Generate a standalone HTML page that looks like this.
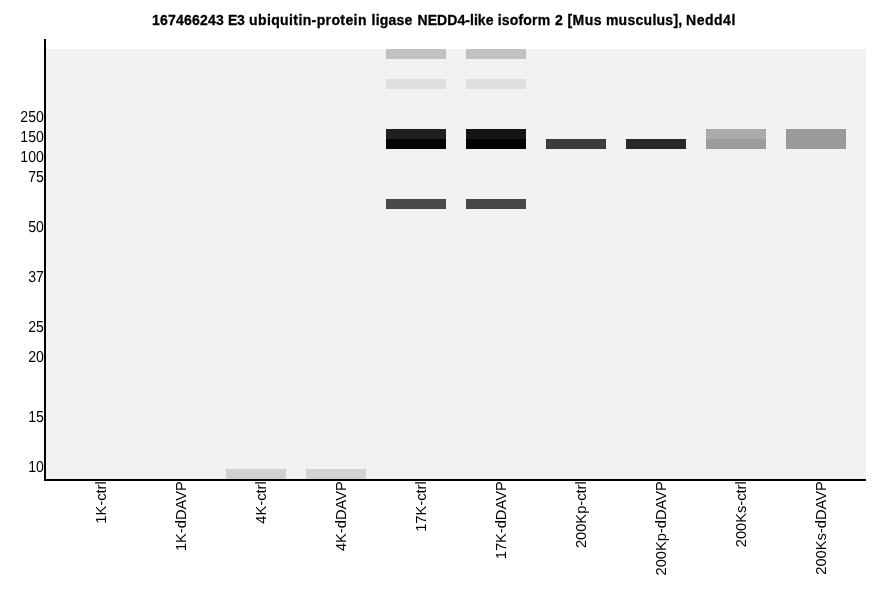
<!DOCTYPE html>
<html><head><meta charset="utf-8"><title>Nedd4l</title>
<style>
html,body{margin:0;padding:0;background:#fff;}
svg{display:block;}
text{font-family:"Liberation Sans",sans-serif;fill:#000;}
.t{font-size:14.0px;font-weight:bold;stroke:#000;stroke-width:0.3px;}
.y{font-size:14.67px;text-anchor:end;}
.x{font-size:14.67px;text-anchor:end;}
</style></head><body>
<svg width="886" height="595" viewBox="0 0 886 595">
<rect x="0" y="0" width="886" height="595" fill="#ffffff"/>
<g shape-rendering="crispEdges">
<rect x="46" y="49" width="820" height="430" fill="#f2f2f2"/>
<rect x="386" y="49" width="60" height="10" fill="#c1c1c1"/>
<rect x="466" y="49" width="60" height="10" fill="#c1c1c1"/>
<rect x="386" y="79" width="60" height="10" fill="#dfdfdf"/>
<rect x="466" y="79" width="60" height="10" fill="#dfdfdf"/>
<rect x="386" y="129" width="60" height="10" fill="#202020"/>
<rect x="466" y="129" width="60" height="10" fill="#151515"/>
<rect x="386" y="139" width="60" height="10" fill="#040404"/>
<rect x="466" y="139" width="60" height="10" fill="#020202"/>
<rect x="386" y="199" width="60" height="10" fill="#4a4a4a"/>
<rect x="466" y="199" width="60" height="10" fill="#474747"/>
<rect x="546" y="139" width="60" height="10" fill="#3c3c3c"/>
<rect x="626" y="139" width="60" height="10" fill="#282828"/>
<rect x="706" y="129" width="60" height="10" fill="#ababab"/>
<rect x="706" y="139" width="60" height="10" fill="#9c9c9c"/>
<rect x="786" y="129" width="60" height="20" fill="#9a9a9a"/>
<rect x="226" y="469" width="60" height="10" fill="#d1d1d1"/>
<rect x="306" y="469" width="60" height="10" fill="#d3d3d3"/>
<rect x="44" y="39" width="2" height="442" fill="#000"/>
<rect x="44" y="479" width="822" height="2" fill="#000"/>
</g>
<text class="t" y="24.7"><tspan x="152.1" letter-spacing="0.193">167466243</tspan> <tspan x="228.0" letter-spacing="-0.290">E3</tspan> <tspan x="249.0" letter-spacing="0.390">ubiquitin-protein</tspan> <tspan x="371.6" letter-spacing="0.215">ligase</tspan> <tspan x="417.5" letter-spacing="0.058">NEDD4-like</tspan> <tspan x="497.8" letter-spacing="0.164">isoform</tspan> <tspan x="554.9" letter-spacing="0.000">2</tspan> <tspan x="567.4" letter-spacing="0.467">[Mus</tspan> <tspan x="605.9" letter-spacing="0.273">musculus],</tspan> <tspan x="686.1" letter-spacing="0.507">Nedd4l</tspan></text>
<text class="y" transform="translate(43.8,121.9) rotate(0.05) scale(0.96,1.08)">250</text>
<text class="y" transform="translate(43.8,141.9) rotate(0.05) scale(0.96,1.08)">150</text>
<text class="y" transform="translate(43.8,161.9) rotate(0.05) scale(0.96,1.08)">100</text>
<text class="y" transform="translate(43.8,181.9) rotate(0.05) scale(0.96,1.08)">75</text>
<text class="y" transform="translate(43.8,231.9) rotate(0.05) scale(0.96,1.08)">50</text>
<text class="y" transform="translate(43.8,281.9) rotate(0.05) scale(0.96,1.08)">37</text>
<text class="y" transform="translate(43.8,331.9) rotate(0.05) scale(0.96,1.08)">25</text>
<text class="y" transform="translate(43.8,361.9) rotate(0.05) scale(0.96,1.08)">20</text>
<text class="y" transform="translate(43.8,421.9) rotate(0.05) scale(0.96,1.08)">15</text>
<text class="y" transform="translate(43.8,471.9) rotate(0.05) scale(0.96,1.08)">10</text>
<text class="x" transform="translate(106,481.3) rotate(-90) scale(1,1.03)">1K-ctrl</text>
<text class="x" transform="translate(186,481.3) rotate(-90) scale(1,1.03)">1K-dDAVP</text>
<text class="x" transform="translate(266,481.3) rotate(-90) scale(1,1.03)">4K-ctrl</text>
<text class="x" transform="translate(346,481.3) rotate(-90) scale(1,1.03)">4K-dDAVP</text>
<text class="x" transform="translate(426,481.3) rotate(-90) scale(1,1.03)">17K-ctrl</text>
<text class="x" transform="translate(506,481.3) rotate(-90) scale(1,1.03)">17K-dDAVP</text>
<text class="x" transform="translate(586,481.3) rotate(-90) scale(1,1.03)">200Kp-ctrl</text>
<text class="x" transform="translate(666,481.3) rotate(-90) scale(1,1.03)">200Kp-dDAVP</text>
<text class="x" transform="translate(746,481.3) rotate(-90) scale(1,1.03)">200Ks-ctrl</text>
<text class="x" transform="translate(826,481.3) rotate(-90) scale(1,1.03)">200Ks-dDAVP</text>
</svg></body></html>
